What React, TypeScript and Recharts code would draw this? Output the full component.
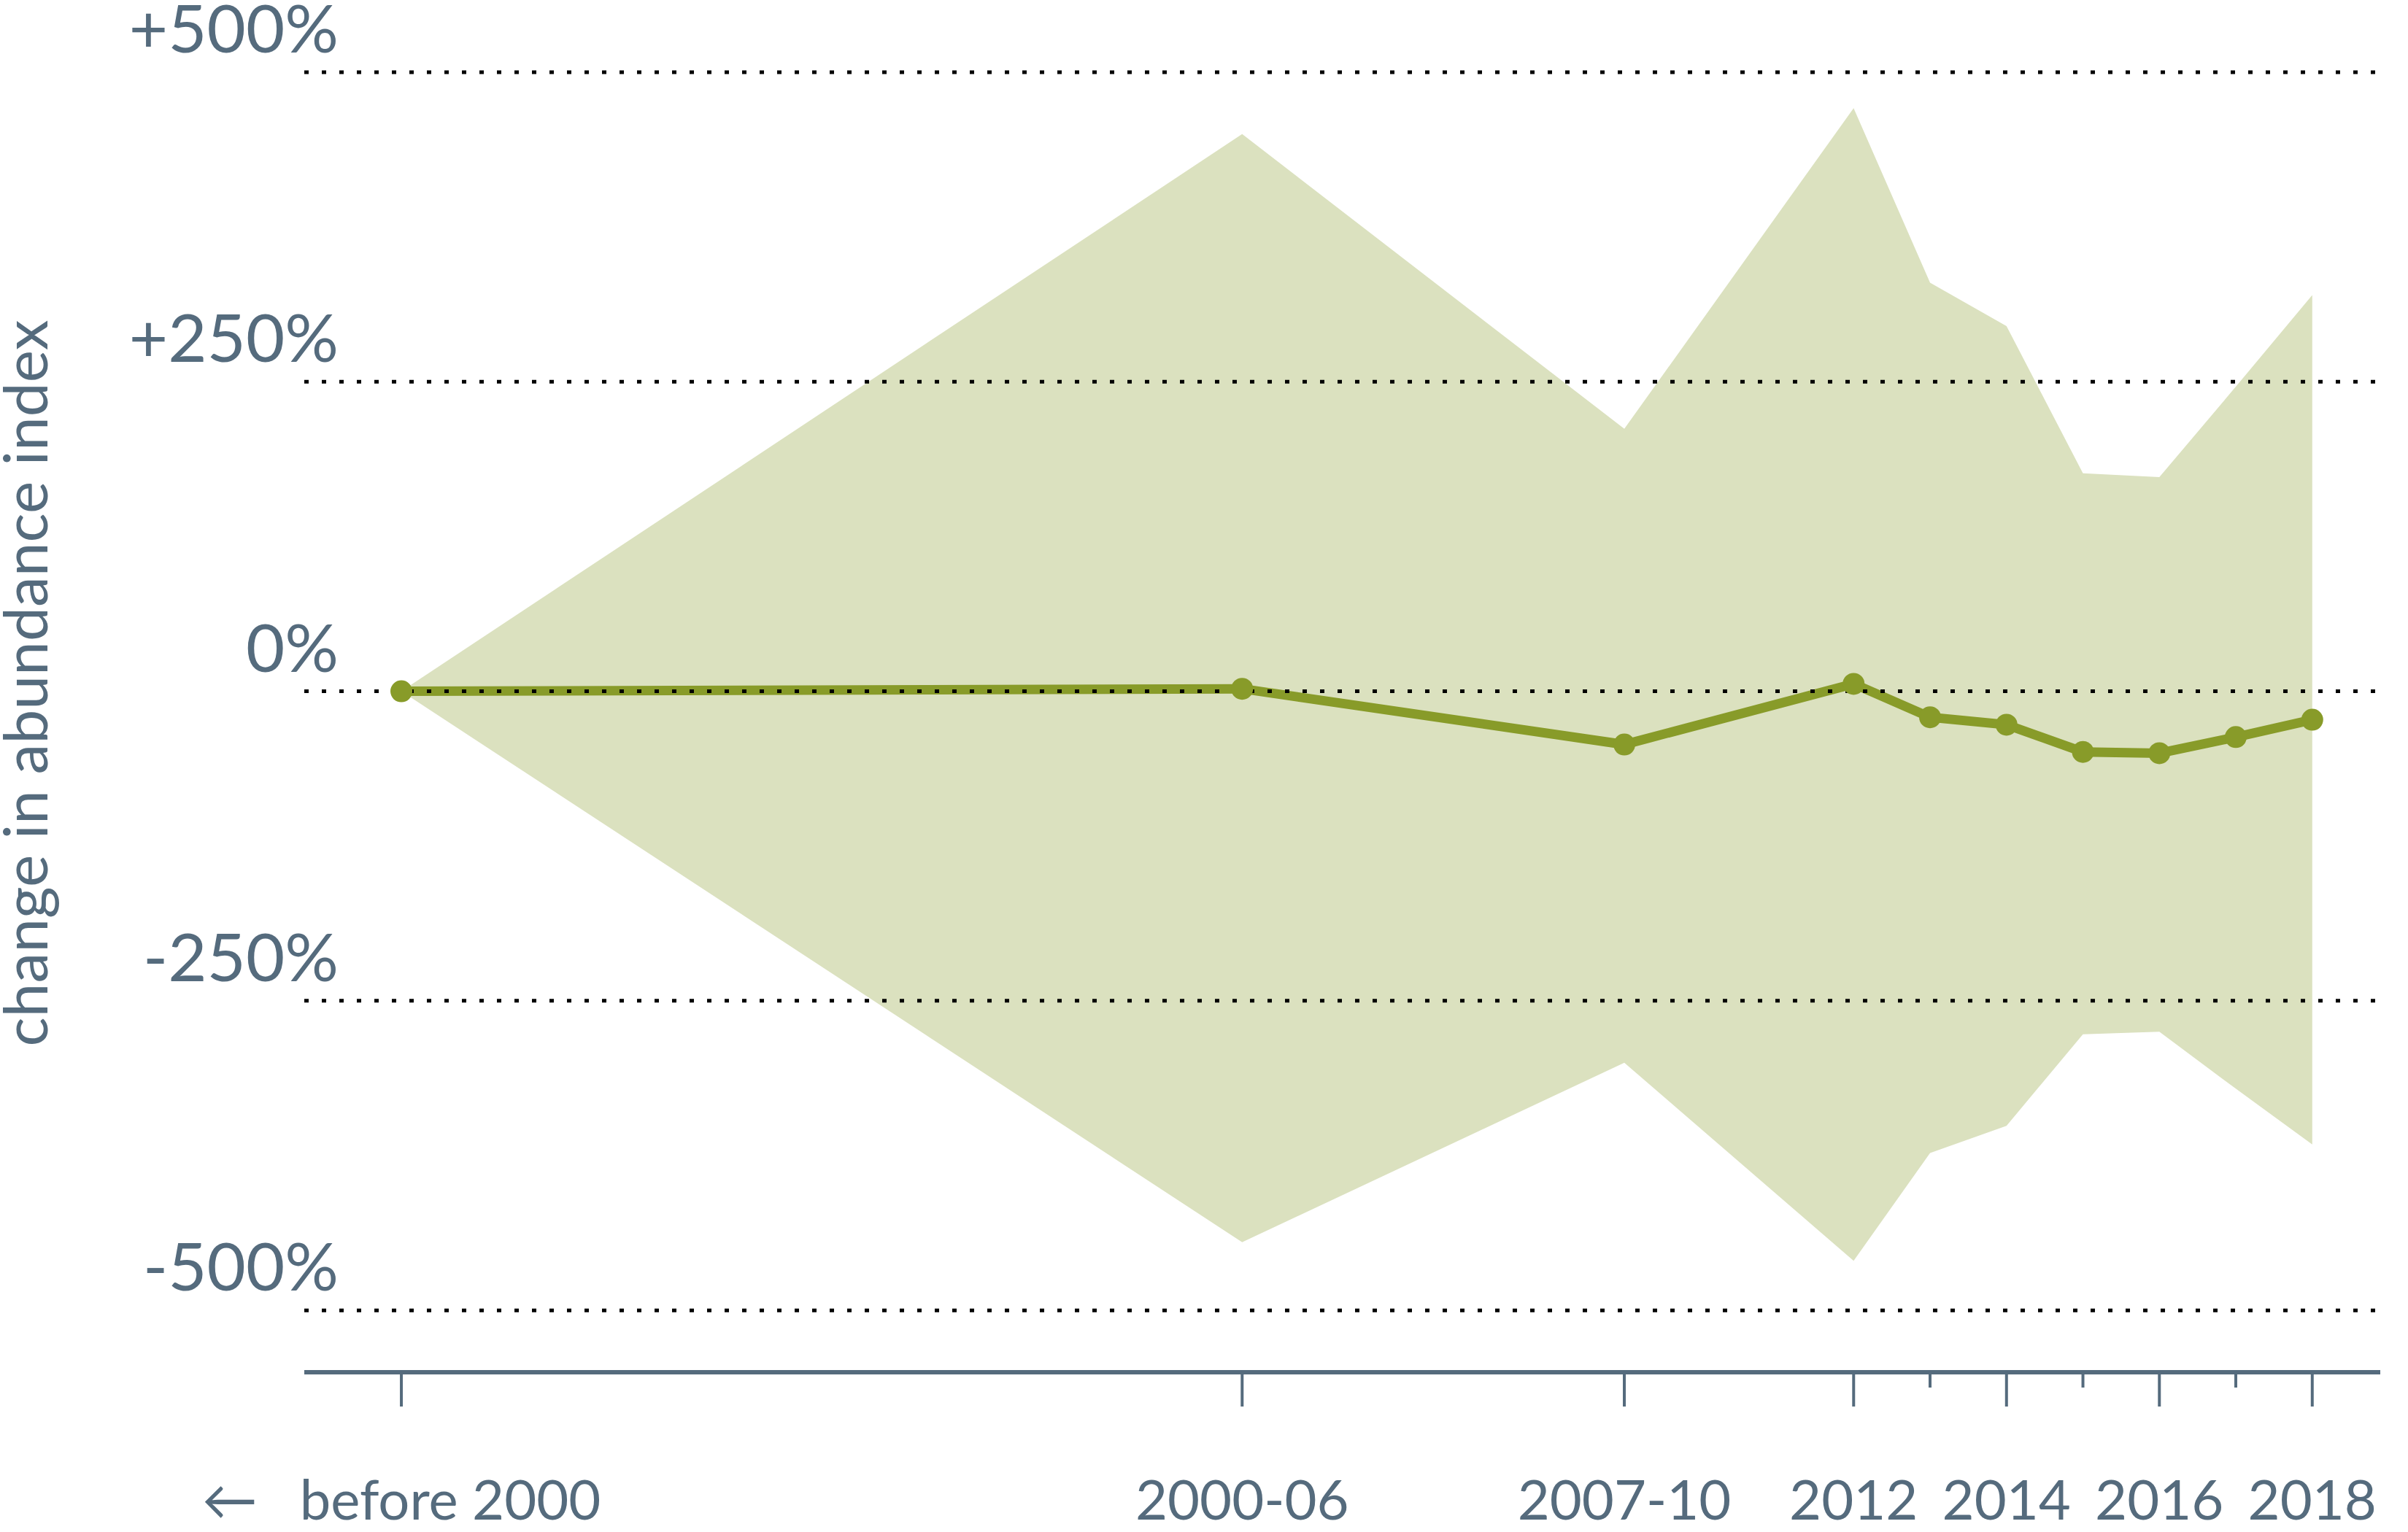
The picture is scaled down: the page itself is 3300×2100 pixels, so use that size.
import React from "react";
import {
  ComposedChart,
  Area,
  Line,
  XAxis,
  YAxis,
  ReferenceLine,
} from "recharts";

// x positions (year-ish) of each period on the time axis
const years = [1993, 2004, 2009, 2012, 2013, 2014, 2015, 2016, 2017, 2018];
const change = [0, 2, -43, 6, -21, -27, -49, -50, -37, -23];
const upper = [0, 450, 212, 471, 330, 295, 176, 173, 246, 320];
const lower = [0, -445, -300, -460, -373, -351, -277, -275, -321, -366];

const xTicks = [1993, 2004, 2009, 2012, 2013, 2014, 2015, 2016, 2017, 2018];
const xTickLabels: Record<number, string> = {
  1993: "before 2000",
  2004: "2000-06",
  2009: "2007-10",
  2012: "2012",
  2014: "2014",
  2016: "2016",
  2018: "2018",
};
const yTicks = [-500, -250, 0, 250, 500];
const yTickLabels: Record<number, string> = {
  500: "+500%",
  250: "+250%",
  0: "0%",
  [-250]: "-250%",
  [-500]: "-500%",
};

const data = years.map((year, i) => ({
  year,
  value: change[i],
  band: [lower[i], upper[i]],
}));

const SLATE = "#556b7d";
const OLIVE = "#889b29";
const BAND = "#dbe1bf";
const FONT = "Lato, 'Open Sans', sans-serif";

function YTick({ x, y, payload }: any) {
  return (
    <text
      x={x + 47}
      y={y - 27}
      textAnchor="end"
      fill={SLATE}
      fontSize={92}
      fontFamily={FONT}
    >
      {yTickLabels[payload.value]}
    </text>
  );
}

function XTick({ x, y, payload }: any) {
  const label = xTickLabels[payload.value];
  const major = label !== undefined;
  const first = payload.value === xTicks[0];
  return (
    <g>
      <line
        x1={x}
        x2={x}
        y1={y + 3}
        y2={y + (major ? 47 : 21)}
        stroke={SLATE}
        strokeWidth={4}
      />
      {major && (
        <text
          x={x}
          y={y + 202}
          textAnchor="middle"
          fill={SLATE}
          fontSize={76}
          fontFamily={FONT}
        >
          {first ? (
            <>
              <tspan>{"\u2190"}</tspan>
              <tspan dx={58}>{label}</tspan>
            </>
          ) : (
            label
          )}
        </text>
      )}
    </g>
  );
}

function YTitle({ viewBox }: any) {
  const cx = 65;
  const cy = viewBox.y + (viewBox.height * 500) / 1050 - 11;
  return (
    <text
      x={cx}
      y={cy}
      transform={`rotate(-90 ${cx} ${cy})`}
      textAnchor="middle"
      fill={SLATE}
      fontSize={84}
      fontFamily={FONT}
    >
      change in abundance index
    </text>
  );
}

export default function App() {
  return (
    <div style={{ position: "absolute", left: 0, top: 0, background: "#fff" }}>
      <ComposedChart
        width={3300}
        height={2100}
        data={data}
        margin={{ top: 99, right: 38, left: 0, bottom: 0 }}
      >
        <XAxis
          type="number"
          dataKey="year"
          domain={[1991.73, 2018.89]}
          ticks={xTicks}
          interval={0}
          height={219}
          axisLine={{ stroke: SLATE, strokeWidth: 6 }}
          tickLine={false}
          tickSize={0}
          tickMargin={0}
          tick={<XTick />}
        />
        <YAxis
          type="number"
          domain={[-550, 500]}
          ticks={yTicks}
          interval={0}
          width={417}
          axisLine={false}
          tickLine={false}
          tickSize={0}
          tickMargin={0}
          tick={<YTick />}
          label={{ content: <YTitle /> }}
        />
        <Area
          type="linear"
          dataKey="band"
          stroke="none"
          fill={BAND}
          fillOpacity={1}
          isAnimationActive={false}
        />
        <Line
          type="linear"
          dataKey="value"
          stroke={OLIVE}
          strokeWidth={13}
          dot={{ r: 15, fill: OLIVE, stroke: "none" }}
          activeDot={false}
          isAnimationActive={false}
        />
        {yTicks.map((v) => (
          <ReferenceLine
            key={v}
            y={v}
            stroke="#000"
            strokeWidth={5}
            strokeDasharray="6 18"
          />
        ))}
      </ComposedChart>
    </div>
  );
}
